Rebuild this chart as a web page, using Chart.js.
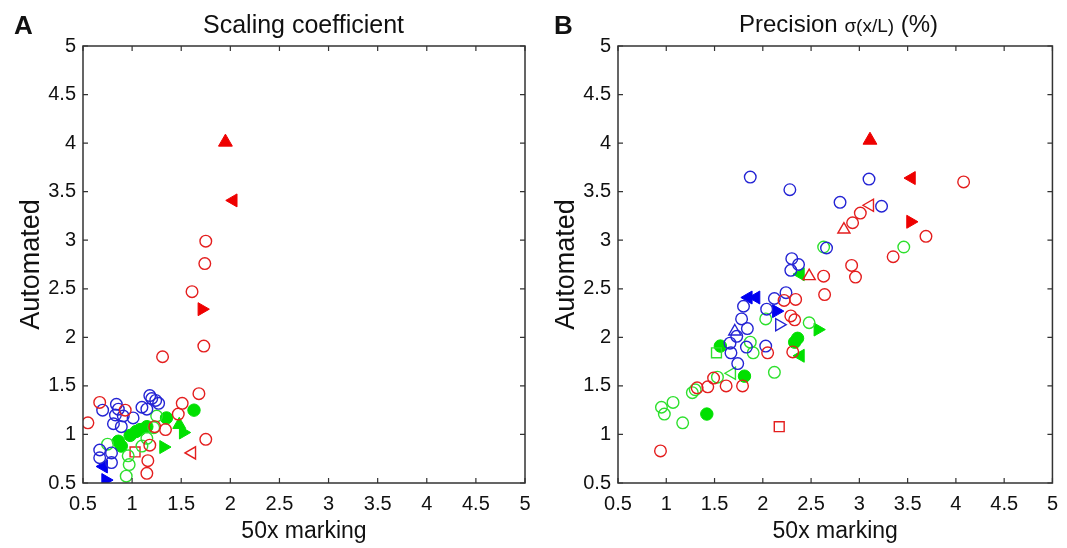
<!DOCTYPE html>
<html>
<head>
<meta charset="utf-8">
<script src="https://cdn.jsdelivr.net/npm/chart.js@4.4.0/dist/chart.umd.min.js"></script>
<style>
  html, body { margin: 0; padding: 0; background: #fff; }
  #page { position: relative; width: 1067px; height: 548px; overflow: hidden; font-family: Arial, "Liberation Sans", sans-serif; }
  .box { position: absolute; top: 0; height: 548px; }
  .lbl { position: absolute; color: #111; white-space: nowrap; line-height: 1; }
</style>
</head>
<body>
<div id="page">
  <div class="box" style="left:0;width:540px"><canvas id="chartA"></canvas></div>
  <div class="box" style="left:535px;width:532px"><canvas id="chartB"></canvas></div>
  <div class="lbl" style="left:14px;top:12px;font-size:26px;font-weight:bold">A</div>
  <div class="lbl" style="left:203px;top:12px;font-size:25px">Scaling coefficient</div>
  <div class="lbl" style="left:554px;top:12px;font-size:26px;font-weight:bold">B</div>
  <div class="lbl" style="left:739px;top:12px;font-size:24px">Precision <span style="font-size:19px">σ(x/L)</span> (%)</div>
</div>
<script>
// axis ticks (same for both panels)
const xTicks = [0.5, 1, 1.5, 2, 2.5, 3, 3.5, 4, 4.5, 5];
const xTickLabels = ['0.5', '1', '1.5', '2', '2.5', '3', '3.5', '4', '4.5', '5'];
const yTicks = [0.5, 1, 1.5, 2, 2.5, 3, 3.5, 4, 4.5, 5];
const yTickLabels = ['0.5', '1', '1.5', '2', '2.5', '3', '3.5', '4', '4.5', '5'];

// Panel A - scaling coefficient, [50x marking, automated]
const aRedCircles = [[0.55,1.12],[0.67,1.33],[0.93,1.25],[1.15,0.60],[1.16,0.73],[1.18,0.89],[1.23,1.08],
  [1.34,1.05],[1.47,1.21],[1.51,1.32],[1.68,1.42],[1.75,0.95],[1.31,1.80],[1.73,1.91],[1.61,2.47],
  [1.74,2.76],[1.75,2.99]];
const aRedUp = [[1.95,4.01]];
const aRedLeft = [[2.03,3.41]];
const aRedRight = [[1.71,2.29]];
const aRedOpenLeft = [[1.61,0.81]];
const aRedSquares = [[1.03,0.82]];
const aBlueCircles = [[0.67,0.84],[0.67,0.76],[0.79,0.81],[0.79,0.71],[0.81,1.11],[0.84,1.31],[0.86,1.26],
  [0.70,1.25],[0.89,1.08],[0.91,1.19],[1.01,1.17],[1.10,1.28],[1.15,1.26],[1.18,1.40],[1.24,1.35],
  [1.27,1.32],[0.83,1.20],[1.20,1.37]];
const aBlueLeft = [[0.71,0.67]];
const aBlueRight = [[0.73,0.53]];
const aGreenCircles = [[0.75,0.90],[0.96,0.78],[0.97,0.69],[0.94,0.57],[1.10,0.88],[1.25,1.19],[1.22,1.07],[1.15,0.96]];
const aGreenDots = [[0.86,0.93],[0.89,0.88],[0.98,0.99],[1.04,1.03],[1.08,1.05],[1.15,1.08],[1.35,1.17],[1.63,1.25]];
const aGreenRight = [[1.32,0.87],[1.52,1.02]];
const aGreenUp = [[1.48,1.10]];

// Panel B - precision sigma(x/L) (%)
const bRedCircles = [[0.94,0.83],[1.32,1.48],[1.43,1.49],[1.62,1.50],[1.79,1.50],[1.49,1.58],[2.22,2.38],
  [2.34,2.39],[2.29,2.22],[2.33,2.18],[2.05,1.84],[2.31,1.85],[2.63,2.63],[2.64,2.44],[3.01,3.28],
  [2.93,3.18],[3.69,3.04],[3.35,2.83],[2.92,2.74],[2.96,2.62],[4.08,3.60]];
const bRedUp = [[3.11,4.03]];
const bRedLeft = [[3.54,3.64]];
const bRedRight = [[3.53,3.19]];
const bRedOpenLeft = [[3.11,3.36]];
const bRedOpenUp = [[2.84,3.11],[2.48,2.63]];
const bRedSquares = [[2.17,1.08]];
const bBlueCircles = [[1.87,3.65],[2.28,3.52],[2.80,3.39],[3.10,3.63],[3.23,3.35],[2.66,2.92],[2.30,2.81],
  [2.37,2.75],[2.29,2.69],[2.24,2.46],[2.12,2.40],[2.04,2.29],[1.80,2.32],[1.78,2.19],[1.84,2.09],
  [1.73,2.01],[1.66,1.94],[1.67,1.84],[1.83,1.90],[2.03,1.91],[1.74,1.73]];
const bBlueLeft = [[1.85,2.41],[1.93,2.41]];
const bBlueRight = [[2.14,2.27]];
const bBlueOpenUp = [[1.71,2.06]];
const bBlueOpenRight = [[2.17,2.13]];
const bGreenCircles = [[0.95,1.28],[0.98,1.21],[1.07,1.33],[1.17,1.12],[1.27,1.43],[2.63,2.93],[3.46,2.93],
  [2.03,2.19],[2.48,2.15],[1.90,1.84],[2.12,1.64],[1.87,1.95],[1.53,1.59],[1.30,1.46]];
const bGreenSquares = [[1.52,1.84]];
const bGreenOpenLeft = [[1.68,1.63]];
const bGreenDots = [[1.42,1.21],[1.56,1.91],[1.81,1.60],[2.36,1.99],[2.33,1.95]];
const bGreenRight = [[2.57,2.08]];
const bGreenLeft = [[2.39,1.81],[2.39,2.65]];

const RED = '#e41e1e', BLUE = '#2424d4', GREEN = '#2ee02e';
const RED_F = '#ee0000', BLUE_F = '#0000f0', GREEN_F = '#00e000';

function pts(arr) {
    return arr.map(p => ({ x: p[0], y: p[1] }));
}

// marker helper: style = circle / triangle / rect, rot = 0 up, 90 right, 270 left
function ds(arr, color, style, filled, rot, r) {
    return {
        data: pts(arr),
        pointStyle: style,
        pointRotation: rot || 0,
        pointRadius: r,
        pointHoverRadius: r,
        borderColor: color,
        backgroundColor: filled ? color : 'rgba(0,0,0,0)',
        pointBorderWidth: filled ? 1 : 1.4,
        showLine: false
    };
}

// Matlab-like box with inward ticks
const framePlugin = {
    id: 'frame',
    afterDraw(chart) {
        const { ctx, chartArea: a, scales } = chart;
        const t = 5;
        ctx.save();
        ctx.strokeStyle = '#333';
        ctx.lineWidth = 1.5;
        ctx.strokeRect(a.left, a.top, a.right - a.left, a.bottom - a.top);
        ctx.beginPath();
        xTicks.forEach(v => {
            const px = scales.x.getPixelForValue(v);
            ctx.moveTo(px, a.bottom); ctx.lineTo(px, a.bottom - t);
            ctx.moveTo(px, a.top); ctx.lineTo(px, a.top + t);
        });
        yTicks.forEach(v => {
            const py = scales.y.getPixelForValue(v);
            ctx.moveTo(a.left, py); ctx.lineTo(a.left + t, py);
            ctx.moveTo(a.right, py); ctx.lineTo(a.right - t, py);
        });
        ctx.lineWidth = 1.2;
        ctx.stroke();
        ctx.restore();
    }
};

const tickFont = { family: 'Arial, "Liberation Sans", sans-serif', size: 20 };

function makePanel(canvasId, datasets, padRight) {
    return new Chart(document.getElementById(canvasId), {
        type: 'scatter',
        data: { datasets: datasets },
        options: {
            responsive: true,
            maintainAspectRatio: false,
            animation: false,
            layout: { padding: { top: 46, right: padRight, left: 0, bottom: 0 } },
            plugins: { legend: { display: false }, tooltip: { enabled: false } },
            scales: {
                x: {
                    type: 'linear',
                    min: 0.5,
                    max: 5,
                    afterBuildTicks: s => { s.ticks = xTicks.map(v => ({ value: v })); },
                    afterFit: s => { s.height = 65; },
                    grid: { display: false, drawTicks: false },
                    border: { display: false },
                    ticks: {
                        autoSkip: false,
                        maxRotation: 0,
                        padding: 9,
                        color: '#111',
                        font: tickFont,
                        callback: (v, i) => xTickLabels[i]
                    },
                    title: {
                        display: true,
                        text: '50x marking',
                        color: '#111',
                        font: { family: 'Arial, "Liberation Sans", sans-serif', size: 23 },
                        padding: { top: 0, bottom: 3 }
                    }
                },
                y: {
                    type: 'linear',
                    min: 0.5,
                    max: 5,
                    afterBuildTicks: s => { s.ticks = yTicks.map(v => ({ value: v })); },
                    afterFit: s => { s.width = 83; },
                    grid: { display: false, drawTicks: false },
                    border: { display: false },
                    ticks: {
                        autoSkip: false,
                        padding: 7,
                        color: '#111',
                        font: tickFont,
                        callback: (v, i) => yTickLabels[i]
                    },
                    title: {
                        display: true,
                        text: 'Automated',
                        color: '#111',
                        font: { family: 'Arial, "Liberation Sans", sans-serif', size: 27 },
                        padding: { top: 15, bottom: 0 }
                    }
                }
            }
        },
        plugins: [framePlugin]
    });
}

makePanel('chartA', [
    ds(aRedCircles, RED, 'circle', false, 0, 5.8),
    ds(aBlueCircles, BLUE, 'circle', false, 0, 5.8),
    ds(aGreenCircles, GREEN, 'circle', false, 0, 5.8),
    ds(aRedSquares, RED, 'rect', false, 0, 7),
    ds(aRedOpenLeft, RED, 'triangle', false, 270, 7),
    ds(aGreenDots, GREEN_F, 'circle', true, 0, 6.2),
    ds(aGreenRight, GREEN_F, 'triangle', true, 90, 7.5),
    ds(aGreenUp, GREEN_F, 'triangle', true, 0, 7.5),
    ds(aBlueLeft, BLUE_F, 'triangle', true, 270, 7.5),
    ds(aBlueRight, BLUE_F, 'triangle', true, 90, 7.5),
    ds(aRedUp, RED_F, 'triangle', true, 0, 8),
    ds(aRedLeft, RED_F, 'triangle', true, 270, 7.5),
    ds(aRedRight, RED_F, 'triangle', true, 90, 7.5)
], 15);

makePanel('chartB', [
    ds(bRedCircles, RED, 'circle', false, 0, 5.8),
    ds(bBlueCircles, BLUE, 'circle', false, 0, 5.8),
    ds(bGreenCircles, GREEN, 'circle', false, 0, 5.8),
    ds(bRedSquares, RED, 'rect', false, 0, 7),
    ds(bGreenSquares, GREEN, 'rect', false, 0, 7),
    ds(bRedOpenLeft, RED, 'triangle', false, 270, 7),
    ds(bRedOpenUp, RED, 'triangle', false, 0, 7),
    ds(bBlueOpenUp, BLUE, 'triangle', false, 0, 7),
    ds(bBlueOpenRight, BLUE, 'triangle', false, 90, 7),
    ds(bGreenOpenLeft, GREEN, 'triangle', false, 270, 7),
    ds(bGreenDots, GREEN_F, 'circle', true, 0, 6.2),
    ds(bGreenRight, GREEN_F, 'triangle', true, 90, 7.5),
    ds(bGreenLeft, GREEN_F, 'triangle', true, 270, 7.5),
    ds(bBlueLeft, BLUE_F, 'triangle', true, 270, 7.5),
    ds(bBlueRight, BLUE_F, 'triangle', true, 90, 7.5),
    ds(bRedUp, RED_F, 'triangle', true, 0, 8),
    ds(bRedLeft, RED_F, 'triangle', true, 270, 7.5),
    ds(bRedRight, RED_F, 'triangle', true, 90, 7.5)
], 9);
</script>
</body>
</html>
